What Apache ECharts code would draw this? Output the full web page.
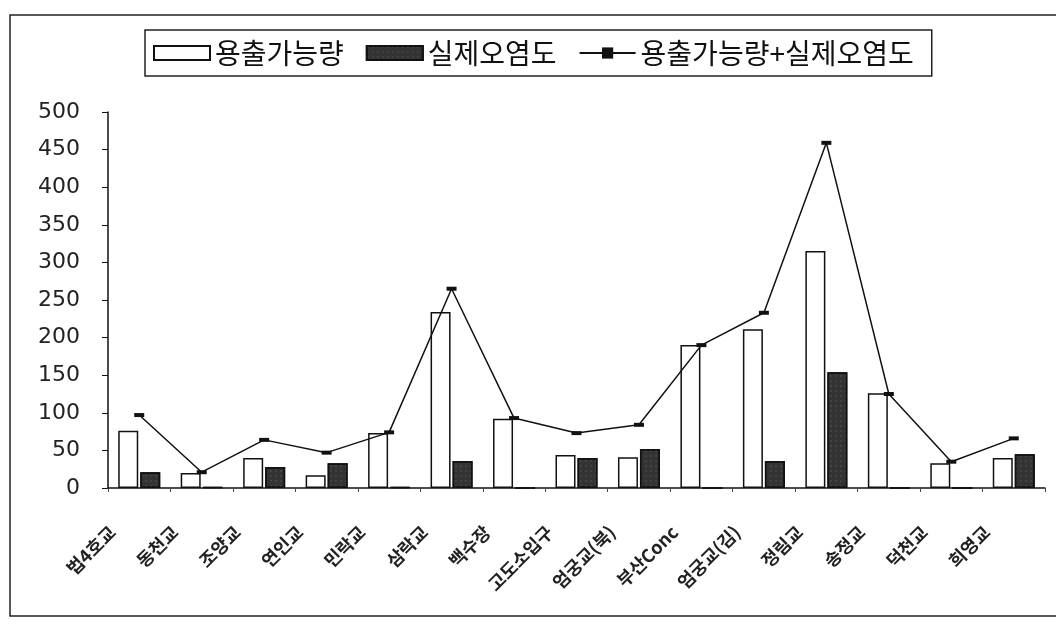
<!DOCTYPE html>
<html>
<head>
<meta charset="utf-8">
<script src="https://cdn.jsdelivr.net/npm/echarts@6/dist/echarts.min.js"></script>
<style>
  html, body { margin: 0; padding: 0; background: #fff; }
  #chart { width: 1056px; height: 624px; }
</style>
</head>
<body>
<div id="chart"></div>
<script>
// 지점
var sites = ['법4호교', '동천교', '조양교', '연인교', '민락교', '삼락교', '백수장', '고도소입구',
    '엄궁교(북)', '부산Conc', '엄궁교(김)', '정림교', '송정교', '덕천교', '희영교'];
// 용출가능량
var release = [76, 20, 40, 17, 73, 234, 92, 44, 41, 190, 211, 315, 126, 33, 40];
// 실제오염도
var actual = [21, 1, 28, 33, 1, 36, 0, 40, 52, 0, 36, 154, 0, 0, 45];
// 용출가능량+실제오염도
var total = [97, 21, 64, 47, 74, 265, 93, 73, 84, 190, 233, 459, 125, 35, 66];

var font = '"Noto Sans CJK KR", "Noto Sans", sans-serif';

var myChart = echarts.init(document.getElementById('chart'));
myChart.setOption({
    backgroundColor: '#fff',
    animation: false,
    graphic: [{
        type: 'rect',
        shape: { x: 10, y: 15, width: 1070, height: 601 },
        style: { fill: 'none', stroke: '#222', lineWidth: 1.5 }
    }],
    legend: {
        top: 30,
        left: 145,
        padding: [9, 18, 9, 8],
        borderColor: '#222',
        borderWidth: 1.5,
        itemWidth: 56,
        itemHeight: 14,
        itemGap: 22,
        textStyle: { fontFamily: font, fontSize: 28, color: '#111' },
        data: [
            { name: '용출가능량', icon: 'rect' },
            { name: '실제오염도', icon: 'rect' },
            '용출가능량+실제오염도'
        ]
    },
    grid: {
        left: 108,
        right: 11,
        top: 112,
        bottom: 136
    },
    xAxis: {
        type: 'category',
        data: sites,
        axisLine: { lineStyle: { color: '#111', width: 1.5 } },
        axisTick: { show: true, length: 4, lineStyle: { color: '#444' } },
        axisLabel: {
            rotate: 45,
            margin: 14,
            padding: [0, 38, 0, 0],
            fontFamily: font,
            fontSize: 18,
            fontWeight: 'bold',
            color: '#222',
            interval: 0
        }
    },
    yAxis: {
        type: 'value',
        min: 0,
        max: 500,
        interval: 50,
        axisLine: { show: true, lineStyle: { color: '#111', width: 1.5 } },
        axisTick: { show: true, length: 6, lineStyle: { color: '#111' } },
        splitLine: { show: false },
        axisLabel: {
            margin: 28,
            fontFamily: '"DejaVu Sans", sans-serif',
            fontSize: 22,
            color: '#222'
        }
    },
    series: [{
        name: '용출가능량',
        type: 'bar',
        data: release,
        barWidth: 20,
        barGap: '10%',
        itemStyle: { color: '#fff', borderColor: '#111', borderWidth: 1.5 }
    }, {
        name: '실제오염도',
        type: 'bar',
        data: actual,
        barWidth: 20,
        itemStyle: {
            color: '#333',
            borderColor: '#111',
            borderWidth: 1.5,
            decal: {
                symbol: 'rect',
                symbolSize: 0.5,
                color: 'rgba(255,255,255,0.3)',
                dashArrayX: [2, 3],
                dashArrayY: [2, 3],
                rotation: 0
            }
        }
    }, {
        name: '용출가능량+실제오염도',
        type: 'line',
        data: total,
        symbol: 'rect',
        symbolSize: [10, 4],
        showAllSymbol: true,
        lineStyle: { color: '#111', width: 1.5 },
        itemStyle: { color: '#111' }
    }]
});
</script>
</body>
</html>
